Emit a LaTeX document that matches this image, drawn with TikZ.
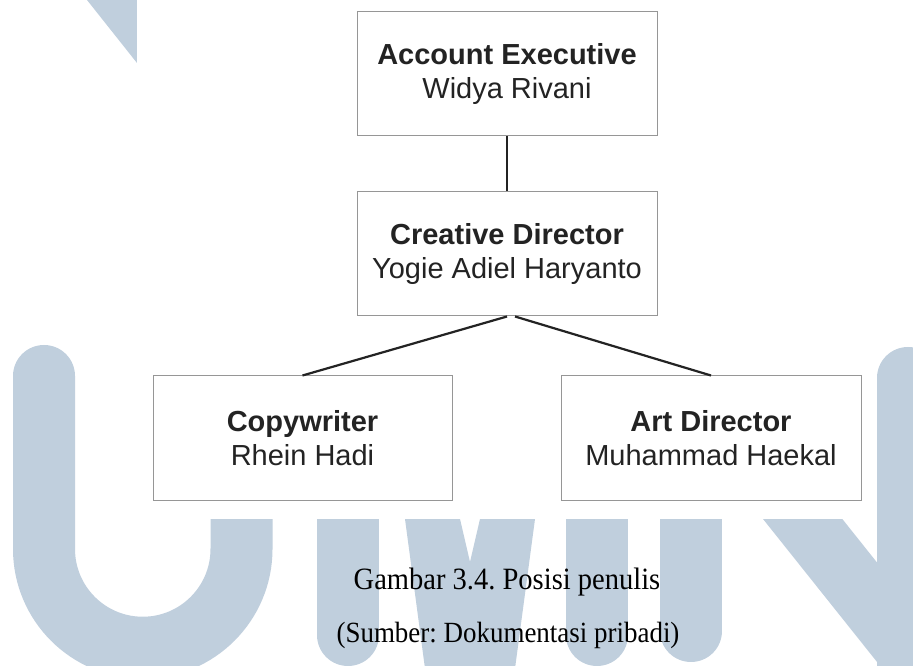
\documentclass[tikz,border=0pt]{standalone}
\usepackage{fontspec}
\setmainfont{Liberation Serif}
\newfontfamily\boxfont{Liberation Sans}
\newfontfamily\capfont[FakeStretch=0.92]{Liberation Serif}
\frenchspacing

\begin{document}
\begin{tikzpicture}[x=1pt, y=1pt,
  wm/.style={draw=wmblue, line width=62pt},
  role/.style={draw=boxgray, line width=1pt, fill=white, minimum width=300pt,
    minimum height=124pt, inner sep=0pt, align=center, text=textdark,
    font=\boxfont\fontsize{29}{34}\selectfont},
  link/.style={draw=textdark, line width=2.2pt}]

% Define colors
\definecolor{wmblue}{RGB}{192, 207, 221}
\definecolor{boxgray}{RGB}{150, 150, 150}
\definecolor{textdark}{RGB}{35, 35, 35}

\useasboundingbox (0,0) rectangle (913,666);
\clip (0,0) rectangle (913,666);
\fill[white] (0,0) rectangle (913,666);

% Watermark letters
\fill[wmblue] (87,666) -- (137,603) -- (137,666) -- cycle;
\draw[wm, line cap=round] (44,290) -- (44,117) arc (180:360:98.75) -- (241.5,300);
\draw[wm, line cap=round] (348,300) -- (348,31);
\fill[wmblue] (405,147) -- (460,147) -- (470,104) -- (480,147) -- (535,147)
  -- (514,-10) -- (426,-10) -- cycle;
\draw[wm, line cap=round] (597,300) -- (597,31);
\draw[wm, line cap=round] (691,300) -- (691,35);
\draw[wm] (628,366) -- (947,-34);
\draw[wm, line cap=round] (908,288) -- (908,-40);

% White paper behind the chart
\fill[white] (137,147) rectangle (877,666);

% Draw the boxes
\node[role] (ae) at (507,592) {\textbf{Account Executive}\\Widya Rivani};
\node[role] (cd) at (507,412) {\textbf{Creative Director}\\Yogie Adiel Haryanto};
\node[role, minimum width=299pt, minimum height=125pt] (cw) at (302.5,227.5)
  {\textbf{Copywriter}\\Rhein Hadi};
\node[role, minimum height=125pt] (ad) at (711,227.5)
  {\textbf{Art Director}\\Muhammad Haekal};

% Draw the links
\draw[link] (ae) -- (cd);
\draw[link] (cd.south) -- (cw.north);
\draw[link] ([xshift=8pt]cd.south) -- (ad.north);

% Add the caption
\node[anchor=base, font=\capfont\fontsize{31}{36}\selectfont] (fig) at (507,76)
  {Gambar 3.4. Posisi penulis};
\node[anchor=base, font=\capfont\fontsize{29.3}{34}\selectfont] (src) at (508,23)
  {(Sumber: Dokumentasi pribadi)};

\end{tikzpicture}
\end{document}
